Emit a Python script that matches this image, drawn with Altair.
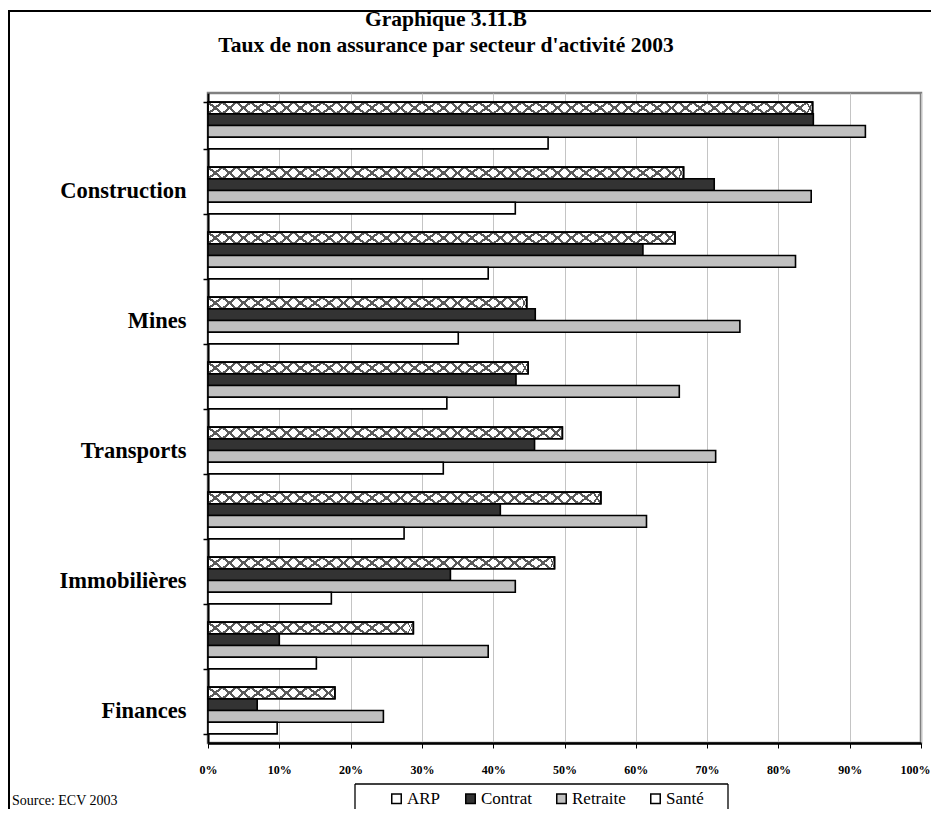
import altair as alt
import pandas as pd

# ---- data ----
categories = ["(secteur 1)", "Construction", "(secteur 3)", "Mines", "(secteur 5)",
              "Transports", "(secteur 7)", "Immobilières", "(secteur 9)", "Finances"]
series = ["ARP", "Contrat", "Retraite", "Santé"]
arp = [84.8, 66.7, 65.5, 44.7, 44.9, 49.7, 55.1, 48.6, 28.8, 17.8]
contrat = [84.9, 71.0, 61.0, 45.9, 43.2, 45.8, 41.0, 34.0, 10.0, 6.9]
retraite = [92.2, 84.6, 82.4, 74.6, 66.1, 71.2, 61.5, 43.1, 39.3, 24.6]
sante = [47.7, 43.1, 39.3, 35.1, 33.5, 33.0, 27.5, 17.3, 15.2, 9.7]
x_ticks = [0, 0.1, 0.2, 0.3, 0.4, 0.5, 0.6, 0.7, 0.8, 0.9, 1.0]

TITLE1 = "Graphique 3.11.B"
TITLE2 = "Taux de non assurance par secteur d'activité 2003"
SOURCE = "Source: ECV 2003"

fills = ["white", "#333333", "#c0c0c0", "white"]
PAT = "#5a5a5a"
CLEAR = "rgba(0,0,0,0)"

rows = []
for name, vals in zip(series, [arp, contrat, retraite, sante]):
    for c, v in zip(categories, vals):
        rows.append({"category": c, "series": name, "value": v / 100.0})
df = pd.DataFrame(rows)

FONT = "Liberation Serif"
W, H = 713, 650

x_axis = alt.Axis(title=None, values=x_ticks, format=".0%", labelFont=FONT,
                  labelFontWeight="bold", labelFontSize=12, labelColor="black",
                  labelPadding=16, labelFlush=True, labelFlushOffset=9,
                  tickSize=5, tickColor="black",
                  tickWidth=1, domainColor="black", domainWidth=2.5, grid=True,
                  gridColor="#c4c4c4", gridWidth=1)
x_scale = alt.Scale(domain=[0, 1], nice=False, zero=True)

y_enc = alt.Y("category:N", sort=categories, title=None,
              scale=alt.Scale(paddingInner=0.28, paddingOuter=0.14),
              axis=alt.Axis(title=None,
                            labelExpr="indexof(datum.label, '(') == 0 ? '' : datum.label",
                            labelFont=FONT, labelFontWeight="bold", labelFontSize=22.5,
                            labelColor="black", labelPadding=17, tickBand="extent",
                            tickSize=5, tickColor="black", tickWidth=1.5,
                            domainColor="black", domainWidth=2, grid=False))
yoff_enc = alt.YOffset("series:N", sort=series,
                       scale=alt.Scale(domain=series, paddingInner=0, paddingOuter=0))

base = alt.Chart(df)

bars = base.mark_bar(stroke="black", strokeWidth=1.6).encode(
    x=alt.X("value:Q", scale=x_scale, axis=x_axis),
    y=y_enc,
    yOffset=yoff_enc,
    fill=alt.Fill("series:N", sort=series,
                  scale=alt.Scale(domain=series, range=fills),
                  legend=alt.Legend(title=None, orient="none", legendX=180, legendY=697,
                                    direction="horizontal", symbolType="square",
                                    symbolSize=90, symbolStrokeColor="black",
                                    symbolStrokeWidth=1.5, labelFont=FONT,
                                    labelFontSize=17, labelColor="black",
                                    columnPadding=21, labelOffset=2, padding=0)),
)


def grad(x1, y1, x2, y2):
    return {"gradient": "linear", "x1": x1, "y1": y1, "x2": x2, "y2": y2,
            "stops": [{"offset": 0, "color": CLEAR}, {"offset": 0.44, "color": CLEAR},
                      {"offset": 0.44, "color": PAT}, {"offset": 0.56, "color": PAT},
                      {"offset": 0.56, "color": CLEAR}, {"offset": 1, "color": CLEAR}]}


seg = (base.transform_filter(alt.datum.series == "ARP")
       .transform_calculate(seg="sequence(0, ceil(datum.value / 0.02 - 0.0001))")
       .transform_flatten(["seg"])
       .transform_calculate(x0="datum.seg * 0.02",
                            x1="min((datum.seg + 1) * 0.02, datum.value)"))

pat1 = seg.mark_bar(fill=grad(0, 0, 1, 1), strokeWidth=0).encode(
    x=alt.X("x0:Q", scale=x_scale, axis=x_axis), x2="x1:Q", y=y_enc, yOffset=yoff_enc)
pat2 = seg.mark_bar(fill=grad(0, 1, 1, 0), strokeWidth=0).encode(
    x=alt.X("x0:Q", scale=x_scale, axis=x_axis), x2="x1:Q", y=y_enc, yOffset=yoff_enc)

outline = (base.transform_filter(alt.datum.series == "ARP")
           .mark_bar(fillOpacity=0, stroke="black", strokeWidth=1.6)
           .encode(x=alt.X("value:Q", scale=x_scale, axis=x_axis), y=y_enc, yOffset=yoff_enc))

one = alt.Data(values=[{}])
frame_top = alt.Chart(one).mark_rule(color="black", strokeWidth=2).encode(
    x=alt.value(-199), x2=alt.value(730), y=alt.value(-82))
frame_left = alt.Chart(one).mark_rule(color="black", strokeWidth=2).encode(
    x=alt.value(-199), y=alt.value(-83), y2=alt.value(900))
box_top = alt.Chart(one).mark_rule(color="black", strokeWidth=1.3).encode(
    x=alt.value(147), x2=alt.value(520), y=alt.value(691))
box_left = alt.Chart(one).mark_rule(color="black", strokeWidth=1.3).encode(
    x=alt.value(147), y=alt.value(691), y2=alt.value(900))
box_right = alt.Chart(one).mark_rule(color="black", strokeWidth=1.3).encode(
    x=alt.value(520), y=alt.value(691), y2=alt.value(900))

t1 = alt.Chart(one).mark_text(font=FONT, fontWeight="bold", fontSize=21.5, align="center",
                              baseline="alphabetic", color="black").encode(
    x=alt.value(238), y=alt.value(-67), text=alt.value(TITLE1))
t2 = alt.Chart(one).mark_text(font=FONT, fontWeight="bold", fontSize=21.5, align="center",
                              baseline="alphabetic", color="black").encode(
    x=alt.value(238), y=alt.value(-41), text=alt.value(TITLE2))
src = alt.Chart(one).mark_text(font=FONT, fontSize=14, align="left",
                               baseline="alphabetic", color="black").encode(
    x=alt.value(-196), y=alt.value(712), text=alt.value(SOURCE))

chart = alt.layer(bars, pat1, pat2, outline, frame_top, frame_left,
                  box_top, box_left, box_right, t1, t2, src).properties(
    width=W, height=H,
    autosize=alt.AutoSizeParams(type="none"),
    padding={"left": 200, "top": 85, "right": 10, "bottom": 66},
    background="white",
).configure_view(stroke="#808080", strokeWidth=2.5)

chart.save("out.html", embed_options={"renderer": "svg", "actions": False})
